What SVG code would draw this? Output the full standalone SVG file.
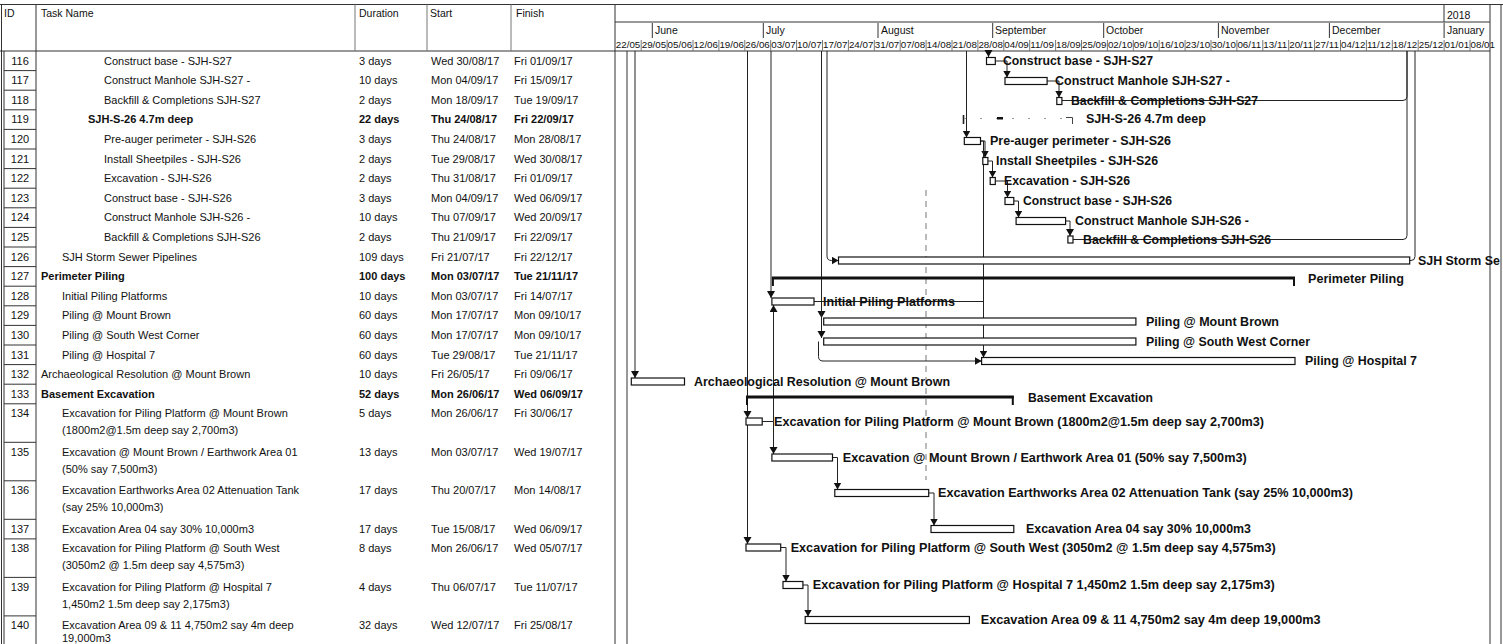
<svg xmlns="http://www.w3.org/2000/svg" width="1503" height="644" viewBox="0 0 1503 644">
<style>
.t{font-family:"Liberation Sans",Arial,sans-serif;font-size:11px;fill:#111}
.b{font-weight:bold}
.h{font-family:"Liberation Sans",Arial,sans-serif;font-size:10.5px;fill:#111}
.wk{font-family:"Liberation Sans",Arial,sans-serif;font-size:9.8px;fill:#111}
.lb{font-family:"Liberation Sans",Arial,sans-serif;font-size:12px;font-weight:bold;fill:#111}
.bar{fill:#fff;stroke:#111;stroke-width:1.2}
.sum{fill:none;stroke:#111;stroke-width:3}
.tick{fill:none;stroke:#111;stroke-width:2}
.cn{fill:none;stroke:#222;stroke-width:1}
.ln{stroke:#333;stroke-width:1;fill:none}
.lt{stroke:#777;stroke-width:1;fill:none}
</style>
<defs>
<marker id="ah" markerUnits="userSpaceOnUse" markerWidth="9" markerHeight="9" refX="7" refY="4" orient="auto"><path d="M0,0 L7,4 L0,8 z" fill="#111"/></marker>
</defs>
<rect width="1503" height="644" fill="#fff"/>

<g id="frame">
<line class="ln" x1="0" y1="4.5" x2="1503" y2="4.5"/>
<line class="ln" x1="1.5" y1="4.5" x2="1.5" y2="644"/>
<line class="ln" x1="0" y1="51" x2="1490" y2="51"/>
<line class="ln" x1="36" y1="4.5" x2="36" y2="644"/>
<line class="lt" x1="355" y1="4.5" x2="355" y2="51"/>
<line class="lt" x1="427" y1="4.5" x2="427" y2="51"/>
<line class="lt" x1="511" y1="4.5" x2="511" y2="51"/>
<line class="ln" x1="615" y1="4.5" x2="615" y2="644"/>
<line class="ln" x1="1490" y1="4.5" x2="1490" y2="644"/>
<line class="ln" x1="1501" y1="4.5" x2="1501" y2="644"/>
<line class="ln" x1="4" y1="51" x2="4" y2="644"/>
<path class="ln" d="M4,70.6H36M4,90.2H36M4,109.8H36M4,129.4H36M4,149H36M4,168.6H36M4,188.2H36M4,207.8H36M4,227.4H36M4,247H36M4,266.6H36M4,286.2H36M4,305.8H36M4,325.4H36M4,345H36M4,364.6H36M4,384.2H36M4,403.8H36M4,442.3H36M4,480.8H36M4,519.3H36M4,538.9H36M4,577.4H36M4,615.9H36"/>
<line class="lt" x1="926" y1="190" x2="926" y2="480" stroke-dasharray="6 5"/>
</g>

<g id="table-header">
<text class="h" x="4" y="17">ID</text>
<text class="h" x="41" y="17">Task Name</text>
<text class="h" x="359" y="17">Duration</text>
<text class="h" x="430" y="17">Start</text>
<text class="h" x="516" y="17">Finish</text>
</g>

<g id="timescale">
<line class="ln" x1="615" y1="22" x2="1490" y2="22"/>
<line class="ln" x1="1444" y1="5" x2="1444" y2="22"/>
<text class="h" x="1447" y="19">2018</text>
<path class="ln" d="M652.3,23V38M763.3,23V38M878,23V38M992.7,23V38M1103.7,23V38M1218.4,23V38M1329.4,23V38M1444.1,23V38"/>
<text class="h" x="655" y="33.5">June</text>
<text class="h" x="766" y="33.5">July</text>
<text class="h" x="881" y="33.5">August</text>
<text class="h" x="995" y="33.5">September</text>
<text class="h" x="1106" y="33.5">October</text>
<text class="h" x="1221" y="33.5">November</text>
<text class="h" x="1332" y="33.5">December</text>
<text class="h" x="1447" y="33.5">January</text>
<path class="lt" d="M641.2,40V51M667.1,40V51M693,40V51M718.9,40V51M744.8,40V51M770.7,40V51M796.6,40V51M822.5,40V51M848.4,40V51M874.3,40V51M900.2,40V51M926.1,40V51M952,40V51M977.9,40V51M1003.8,40V51M1029.7,40V51M1055.6,40V51M1081.5,40V51M1107.4,40V51M1133.3,40V51M1159.2,40V51M1185.1,40V51M1211,40V51M1236.9,40V51M1262.8,40V51M1288.7,40V51M1314.6,40V51M1340.5,40V51M1366.4,40V51M1392.3,40V51M1418.2,40V51M1444.1,40V51M1470,40V51"/>
<text class="wk" y="47.5"><tspan x="615.8">22/05</tspan><tspan x="641.7">29/05</tspan><tspan x="667.6">05/06</tspan><tspan x="693.5">12/06</tspan><tspan x="719.4">19/06</tspan><tspan x="745.3">26/06</tspan><tspan x="771.2">03/07</tspan><tspan x="797.1">10/07</tspan><tspan x="823">17/07</tspan><tspan x="848.9">24/07</tspan><tspan x="874.8">31/07</tspan><tspan x="900.7">07/08</tspan><tspan x="926.6">14/08</tspan><tspan x="952.5">21/08</tspan><tspan x="978.4">28/08</tspan><tspan x="1004.3">04/09</tspan><tspan x="1030.2">11/09</tspan><tspan x="1056.1">18/09</tspan><tspan x="1082">25/09</tspan><tspan x="1107.9">02/10</tspan><tspan x="1133.8">09/10</tspan><tspan x="1159.7">16/10</tspan><tspan x="1185.6">23/10</tspan><tspan x="1211.5">30/10</tspan><tspan x="1237.4">06/11</tspan><tspan x="1263.3">13/11</tspan><tspan x="1289.2">20/11</tspan><tspan x="1315.1">27/11</tspan><tspan x="1341">04/12</tspan><tspan x="1366.9">11/12</tspan><tspan x="1392.8">18/12</tspan><tspan x="1418.7">25/12</tspan><tspan x="1444.6">01/01</tspan><tspan x="1470.5">08/01</tspan></text>
</g>

<g id="connectors">
<path class="cn" marker-end="url(#ah)" d="M988.5,51V57"/>
<path class="cn" marker-end="url(#ah)" d="M995.3,61H1007V77.5"/>
<path class="cn" marker-end="url(#ah)" d="M1047.1,81H1059V97.5"/>
<path class="cn" d="M1061.9,100.5H1403Q1407,100.5 1407,96.5V51"/>
<path class="cn" d="M1073,239.5H1403Q1407,239.5 1407,235.5V51"/>
<path class="cn" d="M1409.7,260.5H1411Q1415,260.5 1415,256.5V51"/>
<path class="cn" marker-end="url(#ah)" d="M966.5,51V137.5"/>
<path class="cn" marker-end="url(#ah)" d="M980.5,141H985V157.5"/>
<path class="cn" marker-end="url(#ah)" d="M980.5,141H983.5V357.5"/>
<path class="cn" marker-end="url(#ah)" d="M987.9,161H992.5V177.5"/>
<path class="cn" marker-end="url(#ah)" d="M995.3,181H1007.5V197.5"/>
<path class="cn" marker-end="url(#ah)" d="M1013.8,201H1018.5V217.5"/>
<path class="cn" marker-end="url(#ah)" d="M1065.6,221H1070V236"/>
<path class="cn" marker-end="url(#ah)" d="M827,51V256Q827,260.5 831.5,260.5H838.5"/>
<path class="cn" marker-end="url(#ah)" d="M821.5,51V318"/>
<path class="cn" d="M814,301.5H983.5"/>
<path class="cn" marker-end="url(#ah)" d="M821.5,301.5V338"/>
<path class="cn" marker-end="url(#ah)" d="M818.5,341.5V356.5Q818.5,361 823,361H981.6"/>
<path class="cn" marker-end="url(#ah)" d="M771,51V298"/>
<path class="cn" marker-end="url(#ah)" d="M762.2,421.5H773.5V305"/>
<path class="cn" marker-end="url(#ah)" d="M773.5,421.5V454"/>
<path class="cn" marker-end="url(#ah)" d="M635,51V378"/>
<path class="ln" d="M627,51V644"/>
<path class="cn" marker-end="url(#ah)" d="M747.5,51V418"/>
<path class="cn" marker-end="url(#ah)" d="M747.5,418V544"/>
<path class="cn" marker-end="url(#ah)" d="M832.5,457.5H837.5V489.5"/>
<path class="cn" marker-end="url(#ah)" d="M928.7,493H934V525.5"/>
<path class="cn" marker-end="url(#ah)" d="M780.7,547.5H786V581.5"/>
<path class="cn" marker-end="url(#ah)" d="M802.9,585H808V616.5"/>
</g>

<g id="task-116">
<text class="t" x="20" y="64.5" text-anchor="middle">116</text>
<text class="t" x="104" y="64.5">Construct base - SJH-S27</text>
<text class="t" x="359" y="64.5">3 days</text>
<text class="t" x="431" y="64.5">Wed 30/08/17</text>
<text class="t" x="514" y="64.5">Fri 01/09/17</text>
<rect class="bar" x="986.5" y="57.5" width="8.8" height="7"/>
<text class="lb" x="1003" y="65" textLength="150" lengthAdjust="spacingAndGlyphs">Construct base - SJH-S27</text>
</g>
<g id="task-117">
<text class="t" x="20" y="84.1" text-anchor="middle">117</text>
<text class="t" x="104" y="84.1">Construct Manhole SJH-S27 -</text>
<text class="t" x="359" y="84.1">10 days</text>
<text class="t" x="431" y="84.1">Mon 04/09/17</text>
<text class="t" x="514" y="84.1">Fri 15/09/17</text>
<rect class="bar" x="1005" y="77.5" width="42.1" height="7"/>
<text class="lb" x="1055" y="85" textLength="175" lengthAdjust="spacingAndGlyphs">Construct Manhole SJH-S27 -</text>
</g>
<g id="task-118">
<text class="t" x="20" y="103.7" text-anchor="middle">118</text>
<text class="t" x="104" y="103.7">Backfill &amp; Completions SJH-S27</text>
<text class="t" x="359" y="103.7">2 days</text>
<text class="t" x="431" y="103.7">Mon 18/09/17</text>
<text class="t" x="514" y="103.7">Tue 19/09/17</text>
<rect class="bar" x="1056.8" y="97.5" width="5.1" height="7"/>
<text class="lb" x="1071" y="105" textLength="187" lengthAdjust="spacingAndGlyphs">Backfill &amp; Completions SJH-S27</text>
</g>
<g id="task-119">
<text class="t" x="20" y="123.3" text-anchor="middle">119</text>
<text class="t b" x="88" y="123.3">SJH-S-26 4.7m deep</text>
<text class="t b" x="359" y="123.3">22 days</text>
<text class="t b" x="431" y="123.3">Thu 24/08/17</text>
<text class="t b" x="514" y="123.3">Fri 22/09/17</text>
<path d="M963.5,115V124" stroke="#222" stroke-width="1.6"/>
<path d="M964,118.5H1073" stroke="#999" stroke-width="1" stroke-dasharray="2 14"/>
<rect x="997" y="117" width="6" height="2.5" fill="#111"/>
<path d="M1066,117.5H1072.5V124" stroke="#444" stroke-width="1" fill="none"/>
<text class="lb" x="1086" y="122.5" textLength="120" lengthAdjust="spacingAndGlyphs">SJH-S-26 4.7m deep</text>
</g>
<g id="task-120">
<text class="t" x="20" y="142.9" text-anchor="middle">120</text>
<text class="t" x="104" y="142.9">Pre-auger perimeter - SJH-S26</text>
<text class="t" x="359" y="142.9">3 days</text>
<text class="t" x="431" y="142.9">Thu 24/08/17</text>
<text class="t" x="514" y="142.9">Mon 28/08/17</text>
<rect class="bar" x="964.3" y="137.5" width="16.2" height="7"/>
<text class="lb" x="990" y="145" textLength="181" lengthAdjust="spacingAndGlyphs">Pre-auger perimeter - SJH-S26</text>
</g>
<g id="task-121">
<text class="t" x="20" y="162.5" text-anchor="middle">121</text>
<text class="t" x="104" y="162.5">Install Sheetpiles - SJH-S26</text>
<text class="t" x="359" y="162.5">2 days</text>
<text class="t" x="431" y="162.5">Tue 29/08/17</text>
<text class="t" x="514" y="162.5">Wed 30/08/17</text>
<rect class="bar" x="982.8" y="157.5" width="5.1" height="7"/>
<text class="lb" x="996" y="165" textLength="162" lengthAdjust="spacingAndGlyphs">Install Sheetpiles - SJH-S26</text>
</g>
<g id="task-122">
<text class="t" x="20" y="182.1" text-anchor="middle">122</text>
<text class="t" x="104" y="182.1">Excavation - SJH-S26</text>
<text class="t" x="359" y="182.1">2 days</text>
<text class="t" x="431" y="182.1">Thu 31/08/17</text>
<text class="t" x="514" y="182.1">Fri 01/09/17</text>
<rect class="bar" x="990.2" y="177.5" width="5.1" height="7"/>
<text class="lb" x="1004" y="185" textLength="126" lengthAdjust="spacingAndGlyphs">Excavation - SJH-S26</text>
</g>
<g id="task-123">
<text class="t" x="20" y="201.7" text-anchor="middle">123</text>
<text class="t" x="104" y="201.7">Construct base - SJH-S26</text>
<text class="t" x="359" y="201.7">3 days</text>
<text class="t" x="431" y="201.7">Mon 04/09/17</text>
<text class="t" x="514" y="201.7">Wed 06/09/17</text>
<rect class="bar" x="1005" y="197.5" width="8.8" height="7"/>
<text class="lb" x="1023" y="205" textLength="149" lengthAdjust="spacingAndGlyphs">Construct base - SJH-S26</text>
</g>
<g id="task-124">
<text class="t" x="20" y="221.3" text-anchor="middle">124</text>
<text class="t" x="104" y="221.3">Construct Manhole SJH-S26 -</text>
<text class="t" x="359" y="221.3">10 days</text>
<text class="t" x="431" y="221.3">Thu 07/09/17</text>
<text class="t" x="514" y="221.3">Wed 20/09/17</text>
<rect class="bar" x="1016.1" y="217.5" width="49.5" height="7"/>
<text class="lb" x="1075" y="225" textLength="174" lengthAdjust="spacingAndGlyphs">Construct Manhole SJH-S26 -</text>
</g>
<g id="task-125">
<text class="t" x="20" y="240.9" text-anchor="middle">125</text>
<text class="t" x="104" y="240.9">Backfill &amp; Completions SJH-S26</text>
<text class="t" x="359" y="240.9">2 days</text>
<text class="t" x="431" y="240.9">Thu 21/09/17</text>
<text class="t" x="514" y="240.9">Fri 22/09/17</text>
<rect class="bar" x="1067.9" y="236" width="5.1" height="7"/>
<text class="lb" x="1083" y="243.5" textLength="188" lengthAdjust="spacingAndGlyphs">Backfill &amp; Completions SJH-S26</text>
</g>
<g id="task-126">
<text class="t" x="20" y="260.5" text-anchor="middle">126</text>
<text class="t" x="62" y="260.5">SJH Storm Sewer Pipelines</text>
<text class="t" x="359" y="260.5">109 days</text>
<text class="t" x="431" y="260.5">Fri 21/07/17</text>
<text class="t" x="514" y="260.5">Fri 22/12/17</text>
<rect class="bar" x="838.5" y="257" width="571.2" height="7"/>
<text class="lb" x="1418" y="264.5" textLength="82" lengthAdjust="spacingAndGlyphs">SJH Storm Se</text>
</g>
<g id="task-127">
<text class="t" x="20" y="280.1" text-anchor="middle">127</text>
<text class="t b" x="41" y="280.1">Perimeter Piling</text>
<text class="t b" x="359" y="280.1">100 days</text>
<text class="t b" x="431" y="280.1">Mon 03/07/17</text>
<text class="t b" x="514" y="280.1">Tue 21/11/17</text>
<path class="sum" d="M771.9,278H1295"/>
<path class="tick" d="M772.9,277V286M1294,277V286"/>
<text class="lb" x="1308" y="283" textLength="96" lengthAdjust="spacingAndGlyphs">Perimeter Piling</text>
</g>
<g id="task-128">
<text class="t" x="20" y="299.7" text-anchor="middle">128</text>
<text class="t" x="62" y="299.7">Initial Piling Platforms</text>
<text class="t" x="359" y="299.7">10 days</text>
<text class="t" x="431" y="299.7">Mon 03/07/17</text>
<text class="t" x="514" y="299.7">Fri 14/07/17</text>
<rect class="bar" x="771.9" y="298" width="42.1" height="7"/>
<text class="lb" x="823" y="305.5" textLength="132" lengthAdjust="spacingAndGlyphs">Initial Piling Platforms</text>
</g>
<g id="task-129">
<text class="t" x="20" y="319.3" text-anchor="middle">129</text>
<text class="t" x="62" y="319.3">Piling @ Mount Brown</text>
<text class="t" x="359" y="319.3">60 days</text>
<text class="t" x="431" y="319.3">Mon 17/07/17</text>
<text class="t" x="514" y="319.3">Mon 09/10/17</text>
<rect class="bar" x="823.7" y="318" width="312.2" height="7"/>
<text class="lb" x="1146" y="325.5" textLength="133" lengthAdjust="spacingAndGlyphs">Piling @ Mount Brown</text>
</g>
<g id="task-130">
<text class="t" x="20" y="338.9" text-anchor="middle">130</text>
<text class="t" x="62" y="338.9">Piling @ South West Corner</text>
<text class="t" x="359" y="338.9">60 days</text>
<text class="t" x="431" y="338.9">Mon 17/07/17</text>
<text class="t" x="514" y="338.9">Mon 09/10/17</text>
<rect class="bar" x="823.7" y="338" width="312.2" height="7"/>
<text class="lb" x="1146" y="345.5" textLength="164" lengthAdjust="spacingAndGlyphs">Piling @ South West Corner</text>
</g>
<g id="task-131">
<text class="t" x="20" y="358.5" text-anchor="middle">131</text>
<text class="t" x="62" y="358.5">Piling @ Hospital 7</text>
<text class="t" x="359" y="358.5">60 days</text>
<text class="t" x="431" y="358.5">Tue 29/08/17</text>
<text class="t" x="514" y="358.5">Tue 21/11/17</text>
<rect class="bar" x="981.6" y="357.5" width="313.4" height="7"/>
<text class="lb" x="1305" y="365" textLength="112" lengthAdjust="spacingAndGlyphs">Piling @ Hospital 7</text>
</g>
<g id="task-132">
<text class="t" x="20" y="378.1" text-anchor="middle">132</text>
<text class="t" x="41" y="378.1">Archaeological Resolution @ Mount Brown</text>
<text class="t" x="359" y="378.1">10 days</text>
<text class="t" x="431" y="378.1">Fri 26/05/17</text>
<text class="t" x="514" y="378.1">Fri 09/06/17</text>
<rect class="bar" x="631.3" y="378" width="53.2" height="7"/>
<text class="lb" x="694" y="385.5" textLength="256" lengthAdjust="spacingAndGlyphs">Archaeological Resolution @ Mount Brown</text>
</g>
<g id="task-133">
<text class="t" x="20" y="397.7" text-anchor="middle">133</text>
<text class="t b" x="41" y="397.7">Basement Excavation</text>
<text class="t b" x="359" y="397.7">52 days</text>
<text class="t b" x="431" y="397.7">Mon 26/06/17</text>
<text class="t b" x="514" y="397.7">Wed 06/09/17</text>
<path class="sum" d="M746,397H1013.8"/>
<path class="tick" d="M747,396V405M1012.8,396V405"/>
<text class="lb" x="1028" y="402" textLength="125" lengthAdjust="spacingAndGlyphs">Basement Excavation</text>
</g>
<g id="task-134">
<text class="t" x="20" y="417.3" text-anchor="middle">134</text>
<text class="t" x="62" y="417.3">Excavation for Piling Platform @ Mount Brown</text>
<text class="t" x="62" y="434.3">(1800m2@1.5m deep say 2,700m3)</text>
<text class="t" x="359" y="417.3">5 days</text>
<text class="t" x="431" y="417.3">Mon 26/06/17</text>
<text class="t" x="514" y="417.3">Fri 30/06/17</text>
<rect class="bar" x="746" y="418" width="16.2" height="7"/>
<text class="lb" x="774" y="425.5" textLength="490" lengthAdjust="spacingAndGlyphs">Excavation for Piling Platform @ Mount Brown (1800m2@1.5m deep say 2,700m3)</text>
</g>
<g id="task-135">
<text class="t" x="20" y="455.8" text-anchor="middle">135</text>
<text class="t" x="62" y="455.8">Excavation @ Mount Brown / Earthwork Area 01</text>
<text class="t" x="62" y="472.8">(50% say 7,500m3)</text>
<text class="t" x="359" y="455.8">13 days</text>
<text class="t" x="431" y="455.8">Mon 03/07/17</text>
<text class="t" x="514" y="455.8">Wed 19/07/17</text>
<rect class="bar" x="771.9" y="454" width="60.6" height="7"/>
<text class="lb" x="842.7" y="461.5" textLength="404" lengthAdjust="spacingAndGlyphs">Excavation @ Mount Brown / Earthwork Area 01 (50% say 7,500m3)</text>
</g>
<g id="task-136">
<text class="t" x="20" y="494.3" text-anchor="middle">136</text>
<text class="t" x="62" y="494.3">Excavation Earthworks Area 02 Attenuation Tank</text>
<text class="t" x="62" y="511.3">(say 25% 10,000m3)</text>
<text class="t" x="359" y="494.3">17 days</text>
<text class="t" x="431" y="494.3">Thu 20/07/17</text>
<text class="t" x="514" y="494.3">Mon 14/08/17</text>
<rect class="bar" x="834.8" y="489.5" width="93.9" height="7"/>
<text class="lb" x="938" y="497" textLength="415" lengthAdjust="spacingAndGlyphs">Excavation Earthworks Area 02 Attenuation Tank (say 25% 10,000m3)</text>
</g>
<g id="task-137">
<text class="t" x="20" y="532.8" text-anchor="middle">137</text>
<text class="t" x="62" y="532.8">Excavation Area 04 say 30% 10,000m3</text>
<text class="t" x="359" y="532.8">17 days</text>
<text class="t" x="431" y="532.8">Tue 15/08/17</text>
<text class="t" x="514" y="532.8">Wed 06/09/17</text>
<rect class="bar" x="931" y="525.5" width="82.8" height="7"/>
<text class="lb" x="1026" y="533" textLength="225" lengthAdjust="spacingAndGlyphs">Excavation Area 04 say 30% 10,000m3</text>
</g>
<g id="task-138">
<text class="t" x="20" y="552.4" text-anchor="middle">138</text>
<text class="t" x="62" y="552.4">Excavation for Piling Platform @ South West</text>
<text class="t" x="62" y="569.4">(3050m2 @ 1.5m deep say 4,575m3)</text>
<text class="t" x="359" y="552.4">8 days</text>
<text class="t" x="431" y="552.4">Mon 26/06/17</text>
<text class="t" x="514" y="552.4">Wed 05/07/17</text>
<rect class="bar" x="746" y="544" width="34.7" height="7"/>
<text class="lb" x="790.7" y="551.5" textLength="485" lengthAdjust="spacingAndGlyphs">Excavation for Piling Platform @ South West (3050m2 @ 1.5m deep say 4,575m3)</text>
</g>
<g id="task-139">
<text class="t" x="20" y="590.9" text-anchor="middle">139</text>
<text class="t" x="62" y="590.9">Excavation for Piling Platform @ Hospital 7</text>
<text class="t" x="62" y="607.9">1,450m2 1.5m deep say 2,175m3)</text>
<text class="t" x="359" y="590.9">4 days</text>
<text class="t" x="431" y="590.9">Thu 06/07/17</text>
<text class="t" x="514" y="590.9">Tue 11/07/17</text>
<rect class="bar" x="783" y="581.5" width="19.9" height="7"/>
<text class="lb" x="812.7" y="589" textLength="462" lengthAdjust="spacingAndGlyphs">Excavation for Piling Platform @ Hospital 7 1,450m2 1.5m deep say 2,175m3)</text>
</g>
<g id="task-140">
<text class="t" x="20" y="629.4" text-anchor="middle">140</text>
<text class="t" x="62" y="629.4">Excavation Area 09 &amp; 11 4,750m2 say 4m deep</text>
<text class="t" x="62" y="642">19,000m3</text>
<text class="t" x="359" y="629.4">32 days</text>
<text class="t" x="431" y="629.4">Wed 12/07/17</text>
<text class="t" x="514" y="629.4">Fri 25/08/17</text>
<rect class="bar" x="805.2" y="616.5" width="164.2" height="7"/>
<text class="lb" x="980.7" y="624" textLength="340" lengthAdjust="spacingAndGlyphs">Excavation Area 09 &amp; 11 4,750m2 say 4m deep 19,000m3</text>
</g>
</svg>
